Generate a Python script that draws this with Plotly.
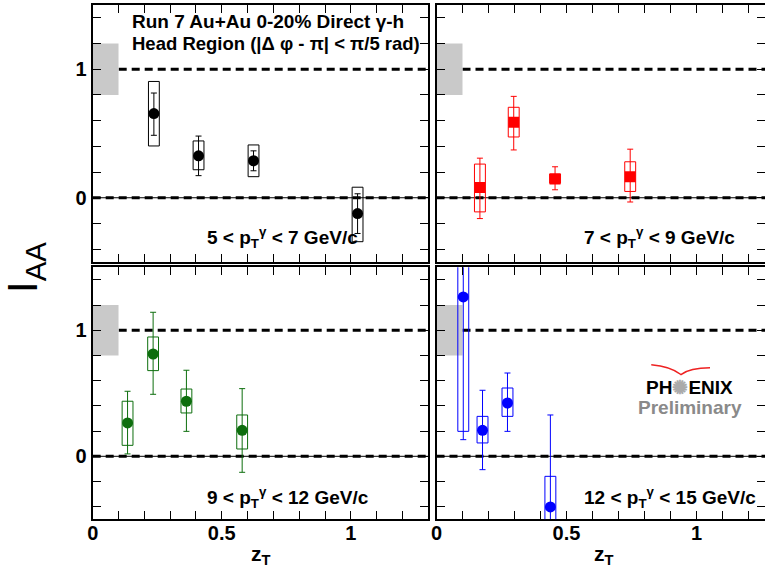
import plotly.graph_objects as go

# ---------------- data ----------------
labels = ["5 &lt; p<sub>T</sub><sup>γ</sup> &lt; 7 GeV/c",
          "7 &lt; p<sub>T</sub><sup>γ</sup> &lt; 9 GeV/c",
          "9 &lt; p<sub>T</sub><sup>γ</sup> &lt; 12 GeV/c",
          "12 &lt; p<sub>T</sub><sup>γ</sup> &lt; 15 GeV/c"]

zt_a = [0.237, 0.410, 0.623, 1.026]
iaa_a = [0.655, 0.326, 0.288, -0.123]
stat_hi_a = [0.815, 0.480, 0.365, 0.031]
stat_lo_a = [0.486, 0.172, 0.210, -0.278]
sys_hi_a = [0.905, 0.442, 0.411, 0.082]
sys_lo_a = [0.403, 0.218, 0.164, -0.342]

zt_b = [0.167, 0.297, 0.456, 0.745]
iaa_b = [0.080, 0.588, 0.146, 0.164]
stat_hi_b = [0.308, 0.789, 0.241, 0.378]
stat_lo_b = [-0.162, 0.372, 0.062, -0.033]
sys_hi_b = [0.262, 0.704, 0.185, 0.280]
sys_lo_b = [-0.110, 0.473, 0.113, 0.049]

zt_c = [0.135, 0.234, 0.363, 0.579]
iaa_c = [0.265, 0.812, 0.437, 0.206]
stat_hi_c = [0.516, 1.143, 0.683, 0.537]
stat_lo_c = [0.019, 0.492, 0.198, -0.127]
sys_hi_c = [0.437, 0.947, 0.534, 0.328]
sys_lo_c = [0.087, 0.680, 0.344, 0.058]

zt_d = [0.103, 0.177, 0.273, 0.438]
iaa_d = [1.265, 0.206, 0.423, -0.402]
stat_hi_d = [1.60, 0.524, 0.661, 0.328]
stat_lo_d = [0.132, -0.106, 0.198, -0.60]
sys_hi_d = [1.65, 0.317, 0.542, -0.159]
sys_lo_d = [0.198, 0.106, 0.317, -0.645]

norm_lo, norm_hi = 0.8, 1.2   # normalization uncertainty band
norm_x = 0.1

x_tickvals = [0, 0.5, 1]
x_ticktext = ["0", "0.5", "1"]
y_tickvals = [0, 1]
y_ticktext = ["0", "1"]

# ---------------- figure ----------------
FONT = "Liberation Sans, Arial, Helvetica, sans-serif"
W, H = 765, 571

panels = [
    ("x", "y", (zt_a, iaa_a, stat_hi_a, stat_lo_a, sys_hi_a, sys_lo_a), "black", "circle"),
    ("x2", "y2", (zt_b, iaa_b, stat_hi_b, stat_lo_b, sys_hi_b, sys_lo_b), "#ff0000", "square"),
    ("x3", "y3", (zt_c, iaa_c, stat_hi_c, stat_lo_c, sys_hi_c, sys_lo_c), "#0d6e0d", "circle"),
    ("x4", "y4", (zt_d, iaa_d, stat_hi_d, stat_lo_d, sys_hi_d, sys_lo_d), "#0000ff", "circle"),
]

fig = go.Figure()
shapes = []
annotations = []
box_hw = 0.021

for i, (xa, ya, d, col, sym) in enumerate(panels):
    zt, iaa, shi, slo, yhi, ylo = d
    shapes.append(dict(type="rect", xref=xa, yref=ya, x0=0, x1=norm_x, y0=norm_lo, y1=norm_hi,
                       fillcolor="#c9c9c9", line=dict(width=0), layer="below"))
    shapes.append(dict(type="line", xref=xa + " domain", yref=ya, x0=0, x1=1, y0=0, y1=0,
                       line=dict(color="black", width=1), layer="below"))
    for yv in (0, 1):
        shapes.append(dict(type="line", xref=xa + " domain", yref=ya, x0=0, x1=1, y0=yv, y1=yv,
                           line=dict(color="black", width=3, dash="8px,5px"), layer="below"))
    for x, lo, hi in zip(zt, ylo, yhi):
        shapes.append(dict(type="rect", xref=xa, yref=ya, x0=x - box_hw, x1=x + box_hw, y0=lo, y1=hi,
                           line=dict(color=col, width=1), fillcolor="rgba(0,0,0,0)", layer="above"))
    fig.add_trace(go.Scatter(
        x=zt, y=iaa, mode="markers", xaxis=xa, yaxis=ya, showlegend=False,
        marker=dict(color=col, symbol=sym, size=11, line=dict(width=0)),
        error_y=dict(type="data", symmetric=False,
                     array=[h - v for h, v in zip(shi, iaa)],
                     arrayminus=[v - l for v, l in zip(iaa, slo)],
                     color=col, thickness=1, width=3),
    ))
    annotations.append(dict(xref=xa + " domain", yref=ya + " domain", x=0.335 if i in (0, 2) else 0.443,
                            y=0.095 if i < 2 else 0.088, xanchor="left", yanchor="middle",
                            text="<b>" + labels[i] + "</b>", showarrow=False,
                            font=dict(family=FONT, size=19, color="black")))

axis_common = dict(showline=True, linewidth=2, linecolor="black", mirror="allticks",
                   ticks="inside", ticklen=8, tickwidth=1, tickcolor="black",
                   showgrid=False, zeroline=False, fixedrange=True, automargin=False,
                   tickfont=dict(family=FONT, size=20, color="black", weight="bold"))
xminor = dict(ticks="inside", ticklen=8, tickwidth=1, tickcolor="black", tick0=0, dtick=0.1, showgrid=False)
yminor = dict(ticks="inside", ticklen=8, tickwidth=1, tickcolor="black", tick0=0, dtick=0.2, showgrid=False)

xl = [92.7 / W, 428.3 / W]
xr = [436.5 / W, 1.0]
yt = [1 - 262 / H, 1 - 5 / H]
yb = [1 - 519.3 / H, 1 - 267.3 / H]
xr_max = (W - 436.5) / 260.0

def xax(dom, rng, anchor, labels_on):
    return dict(domain=dom, range=rng, anchor=anchor, tickmode="array", tickvals=x_tickvals,
                ticktext=x_ticktext, showticklabels=labels_on, minor=xminor,
                ticklabelstandoff=-5, **axis_common)

def yax(dom, anchor, labels_on):
    return dict(domain=dom, range=[-0.5, 1.5], anchor=anchor, tickmode="array", tickvals=y_tickvals,
                ticktext=y_ticktext, showticklabels=labels_on, minor=yminor, **axis_common)

fig.update_layout(
    width=W, height=H, margin=dict(l=0, r=0, t=0, b=0, autoexpand=False),
    paper_bgcolor="white", plot_bgcolor="white",
    xaxis=xax(xl, [0, 1.3], "y", False),
    yaxis=yax(yt, "x", True),
    xaxis2=xax(xr, [0, xr_max], "y2", False),
    yaxis2=yax(yt, "x2", False),
    xaxis3=xax(xl, [0, 1.3], "y3", True),
    yaxis3=yax(yb, "x3", True),
    xaxis4=xax(xr, [0, xr_max], "y4", True),
    yaxis4=yax(yb, "x4", False),
)

annotations.append(dict(xref="x domain", yref="y domain", x=0.111, y=0.934, xanchor="left", yanchor="middle",
                        text="<b>Run 7 Au+Au 0-20% Direct γ-h</b>", showarrow=False,
                        font=dict(family=FONT, size=19, color="black")))
annotations.append(dict(xref="x domain", yref="y domain", x=0.111, y=0.852, xanchor="left", yanchor="middle",
                        text="<b>Head Region (|Δ φ - π| &lt; π/5 rad)</b>", showarrow=False,
                        font=dict(family=FONT, size=18.5, color="black")))
annotations.append(dict(xref="paper", yref="paper", x=25 / W, y=1 - 268 / H, xanchor="center", yanchor="middle",
                        text="I<sub>AA</sub>", textangle=-90, showarrow=False,
                        font=dict(family=FONT, size=42, color="black")))
for xc in (261 / W, 604 / W):
    annotations.append(dict(xref="paper", yref="paper", x=xc, y=1 - 555 / H, xanchor="center", yanchor="middle",
                            text="<b>z<sub>T</sub></b>", showarrow=False,
                            font=dict(family=FONT, size=21, color="black")))
annotations.append(dict(xref="x4", yref="y4", x=0.974, y=0.545, xanchor="center", yanchor="middle",
                        text="<b>PH<span style='color:#aaaaaa'>✺</span>ENIX</b>", showarrow=False,
                        font=dict(family=FONT, size=19, color="black")))
annotations.append(dict(xref="x4", yref="y4", x=0.974, y=0.39, xanchor="center", yanchor="middle",
                        text="<b>Preliminary</b>", showarrow=False,
                        font=dict(family=FONT, size=19, color="#8a8a8a")))
shapes.append(dict(type="path", xref="x4", yref="y4",
                   path="M 0.826,0.727 Q 0.90,0.715 0.94,0.649 Q 0.975,0.703 1.052,0.703",
                   line=dict(color="#ee2222", width=1.5), layer="above"))

fig.update_layout(shapes=shapes, annotations=annotations)
fig.write_html("out.html", config={"displayModeBar": False},
               post_script="document.body.style.margin='0';document.body.style.padding='0';")
